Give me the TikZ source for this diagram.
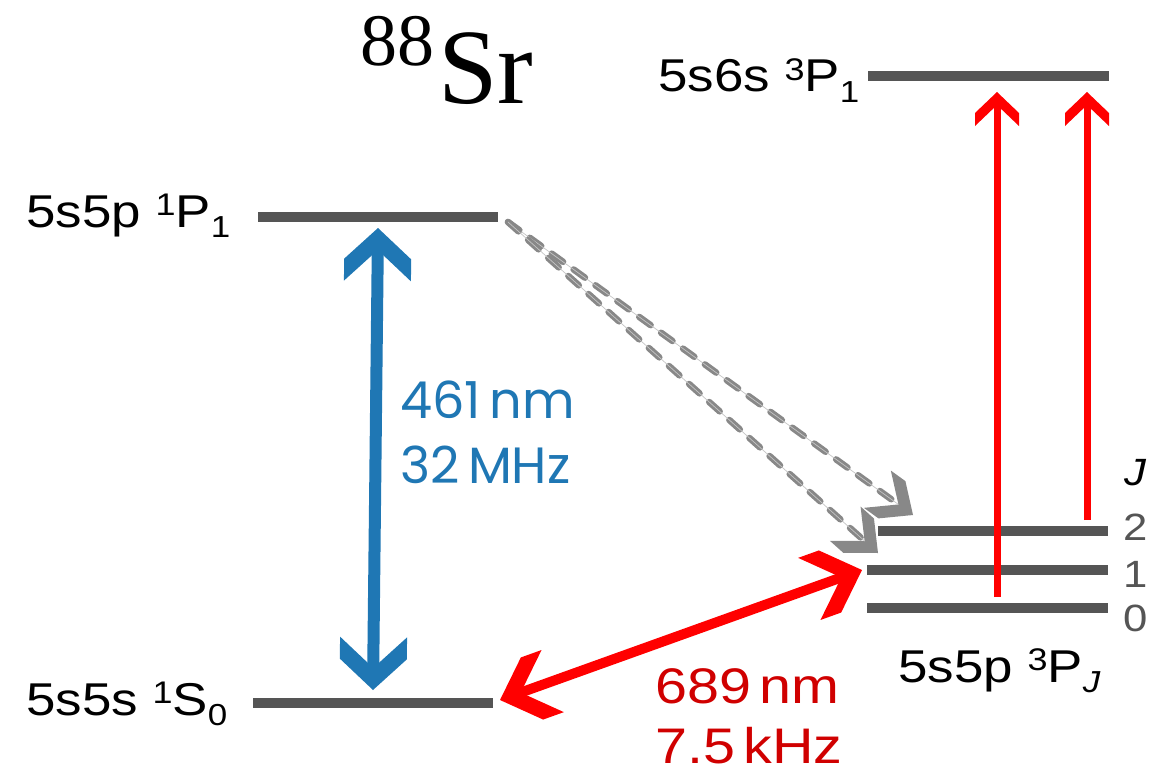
\documentclass[tikz,border=0pt]{standalone}
\usepackage{fontspec}
\usepackage{graphicx}
\usetikzlibrary{arrows.meta}
\setmainfont{Liberation Sans}
\newfontfamily\lab{Liberation Sans}[FakeStretch=1.15]
\newfontfamily\pop{Poppins}
\newfontfamily\tim{Liberation Serif}
\definecolor{lvl}{HTML}{555555}
\definecolor{dgray}{HTML}{888888}
\definecolor{lgray}{HTML}{C4C4C4}
\definecolor{mblue}{HTML}{1F77B4}
\definecolor{lred}{HTML}{FF0000}
\definecolor{tred}{HTML}{D00000}
\newcommand\sps[1]{\raisebox{0.24em}{\scalebox{0.68}{#1}}}
\newcommand\sbs[1]{\raisebox{-0.22em}{\scalebox{0.66}{#1}}}
\pgfdeclarearrow{
  name = Chev,
  parameters = {\the\pgfarrowlength,\the\pgfarrowwidth,\the\pgfarrowinset},
  setup code = {
    \pgfarrowssettipend{0pt}
    \pgfarrowssetlineend{-.5\pgfarrowinset}
    \pgfarrowssetbackend{-\pgfarrowlength}
    \pgfarrowshullpoint{0pt}{0pt}
    \pgfarrowsupperhullpoint{-\pgfarrowlength}{.5\pgfarrowwidth}
    \pgfarrowssavethe\pgfarrowlength
    \pgfarrowssavethe\pgfarrowwidth
    \pgfarrowssavethe\pgfarrowinset
  },
  drawing code = {
    \pgfpathmoveto{\pgfpoint{0pt}{0pt}}
    \pgfpathlineto{\pgfpoint{\pgfarrowinset-\pgfarrowlength}{.5\pgfarrowwidth}}
    \pgfpathlineto{\pgfpoint{-\pgfarrowlength}{.5\pgfarrowwidth}}
    \pgfpathlineto{\pgfpoint{-\pgfarrowinset}{0pt}}
    \pgfpathlineto{\pgfpoint{-\pgfarrowlength}{-.5\pgfarrowwidth}}
    \pgfpathlineto{\pgfpoint{\pgfarrowinset-\pgfarrowlength}{-.5\pgfarrowwidth}}
    \pgfpathclose
    \pgfusepathqfill
  },
  defaults = {length=30pt, width=40pt, inset=12pt}
}
\tikzset{
  bhead/.tip={Chev[length=53pt,width=67pt,inset=22pt]},
  rhead/.tip={Chev[length=56pt,width=66pt,inset=22pt]},
  vhead/.tip={Chev[length=34pt,width=44pt,inset=13pt]},
  ghead/.tip={Chev[length=44pt,width=46pt,inset=18pt]},
}
\begin{document}
\begin{tikzpicture}[x=1pt,y=-1pt,
  level/.style={draw=lvl, line width=10pt},
  lbl/.style={anchor=base west, inner sep=0pt, font=\lab\fontsize{46}{50}\selectfont},
  jlbl/.style={anchor=base west, inner sep=0pt, text=lvl, font=\lab\fontsize{38}{40}\selectfont},
  blbl/.style={anchor=base west, inner sep=0pt, text=mblue, font=\pop\fontsize{51}{55}\selectfont},
  rlbl/.style={anchor=base west, inner sep=0pt, text=tred, font=\lab\fontsize{50}{55}\selectfont},
  bluearr/.style={draw=mblue, line width=12pt, arrows={bhead-bhead}},
  redarr/.style={draw=lred, line width=10pt, arrows={rhead-rhead}},
  varr/.style={draw=lred, line width=7pt, arrows={-vhead}},
  darr/.style={draw=dgray, line width=6.5pt, line cap=round, dash pattern=on 14pt off 13pt, arrows={-ghead},
    postaction={draw=lgray, line width=0.7pt, solid, -, shorten >=18pt}},
]
\useasboundingbox (0,0) rectangle (1152,776);
% levels
\coordinate (P1a) at (258,217); \coordinate (P1b) at (498,217);
\coordinate (S0a) at (253,703); \coordinate (S0b) at (493,703);
\coordinate (Ta) at (868,76);   \coordinate (Tb) at (1109,76);
\coordinate (J2a) at (878,531); \coordinate (J2b) at (1108,531);
\coordinate (J1a) at (867,570); \coordinate (J1b) at (1108,570);
\coordinate (J0a) at (867,608); \coordinate (J0b) at (1108,608);
\draw[level] (P1a) -- (P1b);
\draw[level] (S0a) -- (S0b);
\draw[level] (Ta) -- (Tb);
\draw[level] (J2a) -- (J2b);
\draw[level] (J1a) -- (J1b);
\draw[level] (J0a) -- (J0b);
% arrow end points
\coordinate (bTop) at (378,228); \coordinate (bBot) at (373,690);
\coordinate (rL) at (500,700);   \coordinate (rR) at (862,570);
\coordinate (dS) at (508,222);   \coordinate (dE1) at (913,515); \coordinate (dE2) at (878,553);
\coordinate (v1s) at (997,597);  \coordinate (v1e) at (997,92);
\coordinate (v2s) at (1087,520); \coordinate (v2e) at (1087,92);
\draw[darr] (dS) -- (dE1);
\draw[darr] (dS) -- (dE2);
\draw[varr] (v1s) -- (v1e);
\draw[varr] (v2s) -- (v2e);
\draw[bluearr] (bBot) -- (bTop);
\draw[redarr] (rL) -- (rR);
% labels
\node[lbl] (lP1) at (26,227) {5s5p \sps{1}P\sbs{1}};
\node[lbl] (lS0) at (26,715) {5s5s \sps{1}S\sbs{0}};
\node[lbl] (lT) at (658,92) {5s6s \sps{3}P\sbs{1}};
\node[lbl] (lPJ) at (898,682) {5s5p \sps{3}P\sbs{\textit{J}}};
\node[anchor=base west, inner sep=0pt, font=\lab\fontsize{38}{40}\selectfont\itshape] (lJ) at (1124,485) {J};
\node[jlbl] (n2) at (1123,540) {2};
\node[jlbl] (n1) at (1123,587) {1};
\node[jlbl] (n0) at (1123,631) {0};
\node[blbl] (b1) at (400,418) {461\,nm};
\node[blbl] (b2) at (400,483) {32\,MHz};
\node[rlbl] (r1) at (655,703) {689\,nm};
\node[rlbl] (r2) at (655,763) {7.5\,kHz};
\node[anchor=base west, inner sep=0pt, font=\tim\fontsize{107}{110}\selectfont] (title) at (360,103)
  {\raisebox{38pt}{\fontsize{74}{80}\selectfont 88}\kern4pt Sr};
\end{tikzpicture}
\end{document}
